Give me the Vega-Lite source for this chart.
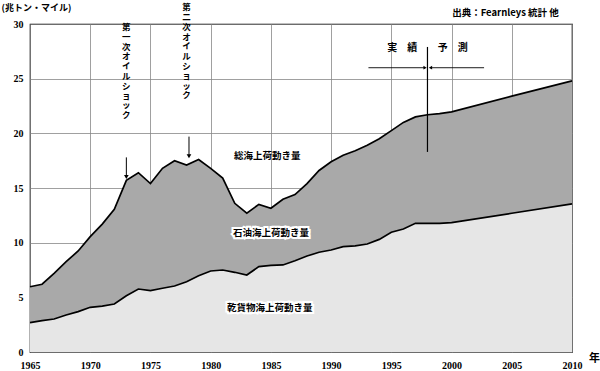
{
  "$schema": "https://vega.github.io/schema/vega-lite/v6.json",
  "autosize": "none",
  "width": 542,
  "height": 328,
  "padding": {"left": 30, "top": 24, "right": 28, "bottom": 19},
  "background": "white",
  "config": {
    "view": {"stroke": "black", "strokeWidth": 1.2},
    "axis": {"labelFont": "Liberation Sans Narrow", "labelFontWeight": "bold", "labelFontSize": 10, "labelColor": "black", "ticks": false, "domain": false, "grid": true, "gridColor": "#888", "gridWidth": 0.8}
  },
  "datasets": {
    "series": [
      {"year": 1965, "total": 5.97, "dry": 2.68},
      {"year": 1966, "total": 6.2, "dry": 2.87},
      {"year": 1967, "total": 7.2, "dry": 3.02},
      {"year": 1968, "total": 8.26, "dry": 3.38},
      {"year": 1969, "total": 9.24, "dry": 3.69},
      {"year": 1970, "total": 10.55, "dry": 4.09},
      {"year": 1971, "total": 11.7, "dry": 4.2},
      {"year": 1972, "total": 13.05, "dry": 4.39},
      {"year": 1973, "total": 15.7, "dry": 5.15},
      {"year": 1974, "total": 16.4, "dry": 5.76},
      {"year": 1975, "total": 15.4, "dry": 5.61},
      {"year": 1976, "total": 16.8, "dry": 5.83},
      {"year": 1977, "total": 17.5, "dry": 6.04},
      {"year": 1978, "total": 17.1, "dry": 6.43},
      {"year": 1979, "total": 17.6, "dry": 6.98},
      {"year": 1980, "total": 16.8, "dry": 7.41},
      {"year": 1981, "total": 15.9, "dry": 7.5},
      {"year": 1982, "total": 13.6, "dry": 7.29},
      {"year": 1983, "total": 12.7, "dry": 7.04},
      {"year": 1984, "total": 13.5, "dry": 7.81},
      {"year": 1985, "total": 13.15, "dry": 7.93},
      {"year": 1986, "total": 13.97, "dry": 7.96},
      {"year": 1987, "total": 14.4, "dry": 8.35},
      {"year": 1988, "total": 15.4, "dry": 8.78},
      {"year": 1989, "total": 16.6, "dry": 9.12},
      {"year": 1990, "total": 17.4, "dry": 9.33},
      {"year": 1991, "total": 18.0, "dry": 9.64},
      {"year": 1992, "total": 18.4, "dry": 9.7},
      {"year": 1993, "total": 18.9, "dry": 9.88},
      {"year": 1994, "total": 19.5, "dry": 10.3},
      {"year": 1995, "total": 20.25, "dry": 10.95},
      {"year": 1996, "total": 21.0, "dry": 11.25},
      {"year": 1997, "total": 21.5, "dry": 11.77},
      {"year": 1998, "total": 21.7, "dry": 11.77},
      {"year": 1999, "total": 21.8, "dry": 11.77},
      {"year": 2000, "total": 21.96, "dry": 11.83},
      {"year": 2005, "total": 23.4, "dry": 12.69},
      {"year": 2010, "total": 24.8, "dry": 13.54}
    ],
    "vtext": [
      {"year": 1973, "value": 30.1, "label": "第\n一\n次\nオ\nイ\nル\nシ\nョ\nッ\nク"},
      {"year": 1978, "value": 31.9, "label": "第\n二\n次\nオ\nイ\nル\nシ\nョ\nッ\nク"}
    ],
    "arrows": [
      {"year": 1973, "y1": 17.8, "y2": 16.0},
      {"year": 1978.2, "y1": 19.7, "y2": 17.9}
    ],
    "areaLabels": [
      {"year": 1984.7, "value": 17.9, "label": "総海上荷動き量", "bg": false},
      {"year": 1985.0, "value": 10.86, "label": "石油海上荷動き量", "bg": true},
      {"year": 1984.9, "value": 4.0, "label": "乾貨物海上荷動き量", "bg": true}
    ],
    "hArrows": [
      {"x1": 1993.1, "x2": 1997.8, "value": 26.0, "shape": "triangle-right"},
      {"x1": 2002.7, "x2": 1998.25, "value": 26.0, "shape": "triangle-left"}
    ],
    "split": [{"year": 1998, "y1": 27.9, "y2": 18.3}],
    "splitLabels": [
      {"year": 1995.9, "value": 27.8, "label": "実　績"},
      {"year": 2000.1, "value": 27.8, "label": "予　測"}
    ],
    "source": [{"year": 2008.9, "value": 31.0, "label": "出典：Fearnleys 統計 他"}]
  },
  "layer": [
    {
      "data": {"name": "series"},
      "mark": {"type": "area", "color": "#a9a9a9", "opacity": 1},
      "encoding": {
        "x": {"field": "year", "type": "quantitative", "scale": {"domain": [1965, 2010], "nice": false}, "axis": {"values": [1965, 1970, 1975, 1980, 1985, 1990, 1995, 2000, 2005, 2010], "format": "d", "labelPadding": 8, "labelFlush": false, "title": "年", "titleFont": "Noto Sans CJK JP", "titleFontSize": 11, "titleFontWeight": "bold", "titleX": 564, "titleY": 6, "titleBaseline": "middle", "titleAlign": "center"}},
        "y": {"field": "total", "type": "quantitative", "scale": {"domain": [0, 30], "nice": false}, "axis": {"values": [0, 5, 10, 15, 20, 25, 30], "labelPadding": 7, "title": "(兆トン・マイル)", "titleAngle": 0, "titleAlign": "left", "titleBaseline": "middle", "titleX": -29, "titleY": -17, "titleFont": "Noto Sans CJK JP", "titleFontSize": 9, "titleFontWeight": "bold"}}
      }
    },
    {
      "data": {"name": "series"},
      "mark": {"type": "area", "color": "#e6e6e6", "opacity": 1},
      "encoding": {
        "x": {"field": "year", "type": "quantitative"},
        "y": {"field": "dry", "type": "quantitative"}
      }
    },
    {
      "data": {"name": "series"},
      "mark": {"type": "line", "color": "black", "strokeWidth": 1.7},
      "encoding": {
        "x": {"field": "year", "type": "quantitative"},
        "y": {"field": "total", "type": "quantitative"}
      }
    },
    {
      "data": {"name": "series"},
      "mark": {"type": "line", "color": "black", "strokeWidth": 1.7},
      "encoding": {
        "x": {"field": "year", "type": "quantitative"},
        "y": {"field": "dry", "type": "quantitative"}
      }
    },
    {
      "data": {"name": "vtext"},
      "mark": {"type": "text", "font": "Noto Sans CJK JP", "fontSize": 8.5, "fontWeight": "bold", "lineBreak": "\n", "lineHeight": 9.8, "baseline": "top", "align": "center", "clip": false, "color": "black"},
      "encoding": {
        "x": {"field": "year", "type": "quantitative"},
        "y": {"field": "value", "type": "quantitative"},
        "text": {"field": "label"}
      }
    },
    {
      "data": {"name": "arrows"},
      "mark": {"type": "rule", "color": "black", "strokeWidth": 1},
      "encoding": {
        "x": {"field": "year", "type": "quantitative"},
        "y": {"field": "y1", "type": "quantitative"},
        "y2": {"field": "y2"}
      }
    },
    {
      "data": {"name": "arrows"},
      "mark": {"type": "point", "shape": "triangle-down", "filled": true, "color": "black", "size": 22, "opacity": 1},
      "encoding": {
        "x": {"field": "year", "type": "quantitative"},
        "y": {"field": "y2", "type": "quantitative"}
      }
    },
    {
      "data": {"name": "split"},
      "mark": {"type": "rule", "color": "black", "strokeWidth": 1.2},
      "encoding": {
        "x": {"field": "year", "type": "quantitative"},
        "y": {"field": "y1", "type": "quantitative"},
        "y2": {"field": "y2"}
      }
    },
    {
      "data": {"name": "hArrows"},
      "mark": {"type": "rule", "color": "black", "strokeWidth": 0.9},
      "encoding": {
        "x": {"field": "x1", "type": "quantitative"},
        "x2": {"field": "x2"},
        "y": {"field": "value", "type": "quantitative"}
      }
    },
    {
      "data": {"name": "hArrows"},
      "mark": {"type": "point", "filled": true, "color": "black", "size": 14, "opacity": 1},
      "encoding": {
        "x": {"field": "x2", "type": "quantitative"},
        "y": {"field": "value", "type": "quantitative"},
        "shape": {"field": "shape", "type": "nominal", "scale": null, "legend": null}
      }
    },
    {
      "data": {"name": "splitLabels"},
      "mark": {"type": "text", "font": "Noto Sans CJK JP", "fontSize": 10, "fontWeight": "bold", "color": "black", "baseline": "middle", "align": "center"},
      "encoding": {
        "x": {"field": "year", "type": "quantitative"},
        "y": {"field": "value", "type": "quantitative"},
        "text": {"field": "label"}
      }
    },
    {
      "data": {"name": "areaLabels"},
      "transform": [{"filter": "datum.bg"}],
      "mark": {"type": "text", "font": "Noto Sans CJK JP", "fontSize": 9.5, "fontWeight": "bold", "color": "white", "stroke": "white", "strokeWidth": 4, "baseline": "middle", "align": "center"},
      "encoding": {
        "x": {"field": "year", "type": "quantitative"},
        "y": {"field": "value", "type": "quantitative"},
        "text": {"field": "label"}
      }
    },
    {
      "data": {"name": "areaLabels"},
      "mark": {"type": "text", "font": "Noto Sans CJK JP", "fontSize": 9.5, "fontWeight": "bold", "color": "black", "baseline": "middle", "align": "center"},
      "encoding": {
        "x": {"field": "year", "type": "quantitative"},
        "y": {"field": "value", "type": "quantitative"},
        "text": {"field": "label"}
      }
    },
    {
      "data": {"name": "source"},
      "mark": {"type": "text", "font": "Noto Sans CJK JP", "fontSize": 9.5, "fontWeight": "bold", "color": "black", "baseline": "middle", "align": "right", "clip": false},
      "encoding": {
        "x": {"field": "year", "type": "quantitative"},
        "y": {"field": "value", "type": "quantitative"},
        "text": {"field": "label"}
      }
    }
  ]
}
